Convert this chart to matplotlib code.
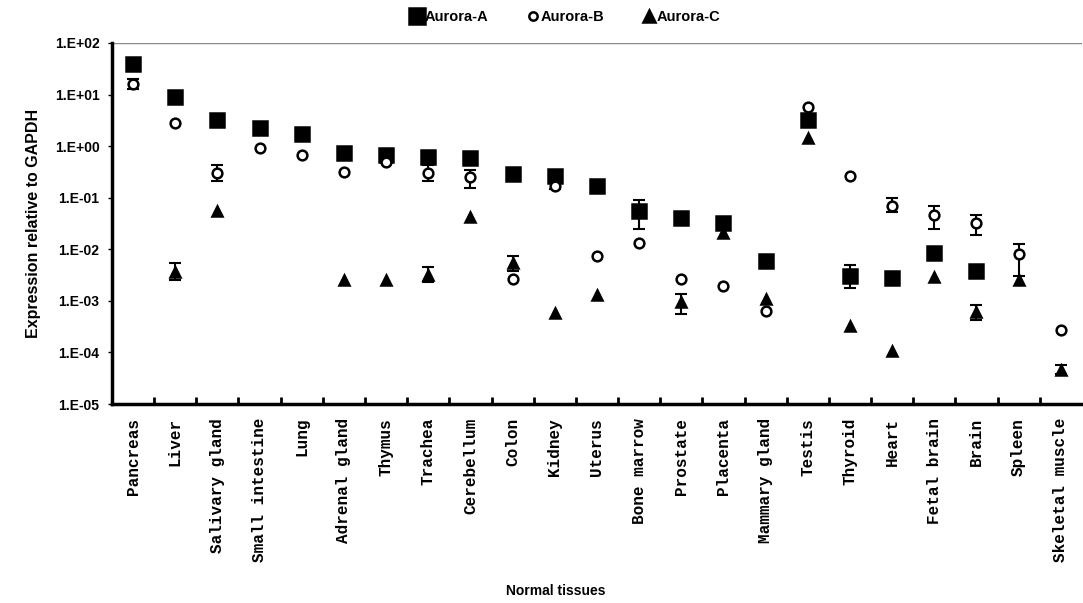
import numpy as np
import matplotlib
matplotlib.use('Agg')
import matplotlib.pyplot as plt
from matplotlib.ticker import FixedLocator, FuncFormatter, NullLocator

nan = np.nan

tissues = ['Pancreas', 'Liver', 'Salivary gland', 'Small intestine', 'Lung',
           'Adrenal gland', 'Thymus', 'Trachea', 'Cerebellum', 'Colon', 'Kidney',
           'Uterus', 'Bone marrow', 'Prostate', 'Placenta', 'Mammary gland',
           'Testis', 'Thyroid', 'Heart', 'Fetal brain', 'Brain', 'Spleen',
           'Skeletal muscle']

# relative expression
aurora_a = [39, 9.0, 3.2, 2.25, 1.75, 0.74, 0.68, 0.62, 0.59, 0.29, 0.26, 0.17,
            0.055, 0.041, 0.032, 0.0059, 3.2, 0.0031, 0.0028, 0.0085, 0.0038,
            nan, nan]
aurora_b = [16, 2.8, 0.30, 0.92, 0.68, 0.32, 0.50, 0.30, 0.25, 0.0026, 0.17,
            0.0074, 0.013, 0.0026, 0.0019, 0.00063, 5.7, 0.26, 0.068, 0.046,
            0.032, 0.0081, 0.00027]
aurora_c = [nan, 0.0037, 0.055, nan, nan, 0.0025, 0.0025, 0.0032, 0.043, 0.0054,
            0.00058, 0.0013, nan, 0.00095, 0.021, 0.0011, 1.45, 0.00032,
            0.000107, 0.0029, 0.0006, 0.0025, 0.000046]

# error bar ends (nan = no bar)
a_low = [nan]*12 + [0.0245] + [nan]*4 + [0.0018] + [nan]*5
a_high = [nan]*12 + [0.091] + [nan]*4 + [0.005] + [nan]*5
b_low = [13, nan, 0.21, nan, nan, nan, nan, 0.21, 0.155, nan, 0.15, nan, nan,
         nan, nan, nan, nan, nan, 0.052, 0.0245, 0.019, 0.003, nan]
b_high = [20, nan, 0.43, nan, nan, nan, nan, 0.43, 0.35, nan, 0.21, nan, nan,
          nan, nan, nan, nan, nan, 0.10, 0.069, 0.046, 0.0126, nan]
c_low = [nan, 0.0025, nan, nan, nan, nan, nan, 0.0023, nan, 0.0038, nan, nan,
         nan, 0.00056, nan, nan, nan, nan, nan, nan, 0.00043, nan, 0.000038]
c_high = [nan, 0.0054, nan, nan, nan, nan, nan, 0.0046, nan, 0.0074, nan, nan,
          nan, 0.00135, nan, nan, nan, nan, nan, nan, 0.00083, nan, 0.000058]

x = np.arange(len(tissues))

fig = plt.figure(figsize=(10.83, 6.03), dpi=100)
ax = fig.add_axes([0.1034, 0.33, 0.8956, 0.5987])


def draw(vals, lo, hi, marker, size, face, label, z):
    vals = np.array(vals, dtype=float)
    lo = np.array(lo, dtype=float)
    hi = np.array(hi, dtype=float)
    m = ~np.isnan(lo)
    ax.errorbar(x[m], vals[m], yerr=[vals[m] - lo[m], hi[m] - vals[m]],
                fmt='none', ecolor='black', elinewidth=1.5, capsize=4,
                capthick=1.5, zorder=z - 1)
    ax.plot(x, vals, linestyle='none', marker=marker, markersize=size,
            markerfacecolor=face, markeredgecolor='black', markeredgewidth=1.8,
            label=label, zorder=z)


draw(aurora_a, a_low, a_high, 's', 10.5, 'black', 'Aurora-A', 3)
draw(aurora_b, b_low, b_high, 'o', 7, 'white', 'Aurora-B', 4)
draw(aurora_c, c_low, c_high, '^', 7.5, 'black', 'Aurora-C', 5)

ax.set_yscale('log')
ax.set_ylim(1e-5, 1e2)
ax.set_xlim(-0.5, len(tissues) - 0.5)

ax.yaxis.set_major_locator(FixedLocator([10.0**k for k in range(-5, 3)]))
ax.yaxis.set_minor_locator(NullLocator())
ax.yaxis.set_major_formatter(FuncFormatter(lambda v, p: '1.E%+03d' % int(round(np.log10(v)))))
ax.tick_params(axis='y', length=3, width=1, direction='out', pad=6)
for t in ax.get_yticklabels():
    t.set_fontfamily('Liberation Sans')
    t.set_fontweight('bold')
    t.set_fontsize(10)

ax.set_xticks(x)
ax.set_xticklabels(tissues, rotation=90, fontfamily='Liberation Mono',
                   fontweight='bold', fontsize=11.5)
ax.tick_params(axis='x', which='major', length=0, pad=10)
ax.set_xticks(np.arange(len(tissues) - 1) + 0.5, minor=True)
ax.tick_params(axis='x', which='minor', length=5, width=2, direction='in')

ax.axhline(1e2, color='#888888', linewidth=1, zorder=1)
ax.spines['left'].set_linewidth(2.5)
ax.spines['bottom'].set_linewidth(2.5)
ax.spines['top'].set_visible(False)
ax.spines['right'].set_visible(False)

ax.set_ylabel('Expression relative to GAPDH', fontfamily='Liberation Sans',
              fontweight='bold', fontsize=11.5, labelpad=10)
fig.text(0.513, 0.013, 'Normal tissues', ha='center', fontfamily='Liberation Sans',
         fontweight='bold', fontsize=10)

leg = fig.legend(loc='center', bbox_to_anchor=(0.522, 0.972), ncol=3, frameon=False,
                 handletextpad=0.1, columnspacing=2.6, handlelength=0.9,
                 prop={'family': 'Liberation Sans', 'weight': 'bold', 'size': 10.5})
for h, s in zip(leg.legend_handles, [11, 6, 8]):
    h.set_markersize(s)

fig.savefig('out.png', dpi=100)
